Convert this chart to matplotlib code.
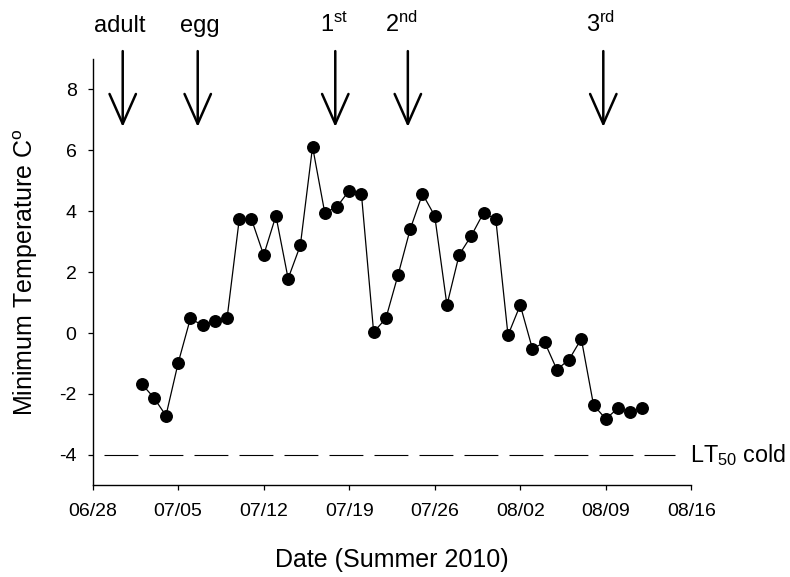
import matplotlib
matplotlib.use("Agg")
import matplotlib.pyplot as plt
import matplotlib.dates as mdates
import pandas as pd

plt.rcParams['font.family'] = ['Liberation Sans', 'DejaVu Sans']
plt.rcParams['mathtext.fontset'] = 'custom'
plt.rcParams['mathtext.rm'] = 'Liberation Sans'
plt.rcParams['mathtext.it'] = 'Liberation Sans:italic'
plt.rcParams['axes.unicode_minus'] = False

# daily minimum temperatures, 07/02 - 08/12 2010
dates = pd.date_range('2010-07-02', '2010-08-12', freq='D')
temps = [-1.66, -2.12, -2.71, -0.98, 0.48, 0.25, 0.38, 0.48, 3.74, 3.74,
         2.56, 3.85, 1.79, 2.88, 6.12, 3.95, 4.15, 4.68, 4.57, 0.03,
         0.48, 1.91, 3.42, 4.57, 3.85, 0.92, 2.57, 3.20, 3.95, 3.74,
         -0.07, 0.92, -0.52, -0.30, -1.20, -0.87, -0.19, -2.36, -2.82, -2.47,
         -2.59, -2.47]

lt50 = -4
lt50_start = pd.Timestamp('2010-06-28 22:00')
lt50_end = pd.Timestamp('2010-08-14 17:00')

# stage arrows (days after 06/28) and labels
stage_days = [2.46, 8.6, 19.86, 25.8, 41.8]
stage_labels = ['adult', 'egg', r'$1^{\rm st}$', r'$2^{\rm nd}$', r'$3^{\rm rd}$']
label_days = [2.2, 8.8, 19.75, 25.3, 41.6]

x_ticks = pd.date_range('2010-06-28', '2010-08-16', freq='7D')
y_ticks = [-4, -2, 0, 2, 4, 6, 8]

fig = plt.figure(figsize=(7.9, 5.77), dpi=100)
ax = fig.add_axes([0.1173, 0.1589, 0.7577, 0.7388])

ax.plot(dates, temps, color='k', lw=0.9, marker='o', markersize=8.3, zorder=3)

ax.plot([lt50_start, lt50_end], [lt50, lt50], color='k', lw=0.8,
        dashes=(30.5, 10))
ax.text(pd.Timestamp('2010-08-15 21:00'), lt50, r'LT$_{50}$ cold',
        fontsize=16.8, va='center', ha='left')

start = pd.Timestamp('2010-06-28')
for d, lx, lab in zip(stage_days, label_days, stage_labels):
    x = start + pd.Timedelta(days=d)
    ax.annotate('', xy=(x, 6.77), xytext=(x, 9.26),
                arrowprops=dict(arrowstyle='->, head_length=2.15, head_width=0.95',
                                lw=1.8, color='k', shrinkA=0, shrinkB=0,
                                mutation_scale=10),
                annotation_clip=False)
    ax.text(start + pd.Timedelta(days=lx), 9.89, lab, fontsize=17,
            ha='center', va='baseline', clip_on=False)

ax.set_xlim(pd.Timestamp('2010-06-28'), pd.Timestamp('2010-08-16'))
ax.set_ylim(-5, 9)
ax.set_xticks(x_ticks)
ax.xaxis.set_major_formatter(mdates.DateFormatter('%m/%d'))
ax.set_yticks(y_ticks)

ax.spines['top'].set_visible(False)
ax.spines['right'].set_visible(False)
ax.spines['left'].set_linewidth(1.0)
ax.spines['bottom'].set_linewidth(1.0)
ax.tick_params(axis='both', length=3.6, width=0.9, labelsize=14)
ax.tick_params(axis='y', pad=8)
ax.tick_params(axis='x', pad=9)

ax.set_xlabel('Date (Summer 2010)', fontsize=18, labelpad=20)
ax.set_ylabel(r'Minimum Temperature C$^{\rm o}$', fontsize=18, labelpad=14)

fig.savefig('out.png', dpi=100)
